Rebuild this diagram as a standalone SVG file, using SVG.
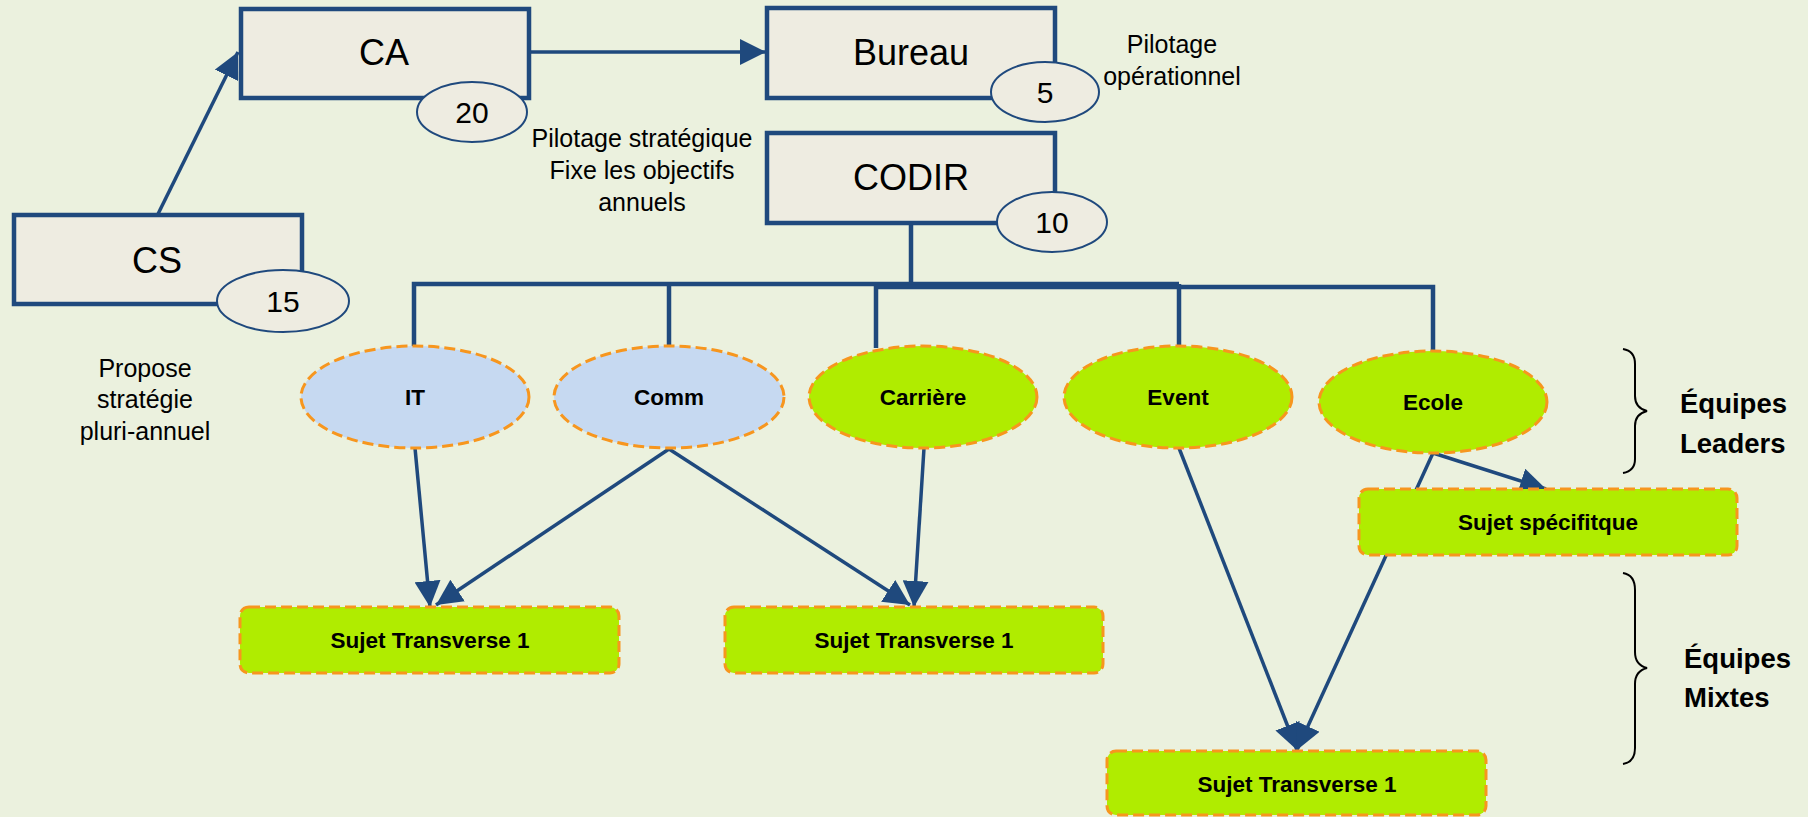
<svg xmlns="http://www.w3.org/2000/svg" width="1808" height="817" viewBox="0 0 1808 817">
<defs>
<marker id="arr" viewBox="0 0 10 10" refX="10" refY="5" markerWidth="26" markerHeight="26" markerUnits="userSpaceOnUse" orient="auto">
<path d="M0,0 L10,5 L0,10 z" fill="#1F497D"/>
</marker>
<style>
.box{fill:#EEECE1;stroke:#1F497D;stroke-width:4.5}
.num{fill:#EEECE1;stroke:#1F497D;stroke-width:2}
.big{font-family:"Liberation Sans",Arial,sans-serif;font-size:36px;fill:#000;text-anchor:middle}
.n{font-family:"Liberation Sans",Arial,sans-serif;font-size:30px;fill:#000;text-anchor:middle}
.note{font-family:"Liberation Sans",Arial,sans-serif;font-size:25px;fill:#000;text-anchor:middle}
.blue{fill:#C6D9F1;stroke:#F7961E;stroke-width:3;stroke-dasharray:11 5}
.green{fill:#B0EC00;stroke:#F7961E;stroke-width:3;stroke-dasharray:11 5}
.lbl{font-family:"Liberation Sans",Arial,sans-serif;font-weight:bold;font-size:22.5px;fill:#000;text-anchor:middle}
.team{font-family:"Liberation Sans",Arial,sans-serif;font-weight:bold;font-size:27.5px;fill:#000}
.con{fill:none;stroke:#1F497D;stroke-width:3.5}
.bus{fill:none;stroke:#1F497D;stroke-width:4.5}
.brace{fill:none;stroke:#000;stroke-width:2}
</style>
</defs>
<rect x="0" y="0" width="1808" height="817" fill="#EBF1DE"/>

<g id="connectors">
<line class="con" x1="158" y1="214" x2="238" y2="52" marker-end="url(#arr)"/>
<line class="con" x1="530" y1="52" x2="766" y2="52" marker-end="url(#arr)"/>
<line class="bus" x1="911" y1="223" x2="911" y2="284"/>
<polyline class="bus" points="414,348 414,284 1179,284"/>
<line class="bus" x1="669" y1="284" x2="669" y2="348"/>
<polyline class="bus" points="876,348 876,287 1433,287 1433,352"/>
<line class="bus" x1="1179" y1="284" x2="1179" y2="348"/>
<line class="con" x1="415" y1="448" x2="430" y2="607" marker-end="url(#arr)"/>
<line class="con" x1="669" y1="449" x2="436" y2="605" marker-end="url(#arr)"/>
<line class="con" x1="669" y1="449" x2="910" y2="605" marker-end="url(#arr)"/>
<line class="con" x1="924" y1="448" x2="914" y2="607" marker-end="url(#arr)"/>
<line class="con" x1="1179" y1="448" x2="1297" y2="750" marker-end="url(#arr)"/>
<line class="con" x1="1433" y1="453" x2="1297" y2="750" marker-end="url(#arr)"/>
<line class="con" x1="1433" y1="453" x2="1546" y2="489" marker-end="url(#arr)"/>
</g>

<g id="node-CA">
<rect class="box" x="241" y="9" width="288" height="89"/>
<text class="big" x="384" y="65">CA</text>
<ellipse class="num" cx="472" cy="112" rx="55" ry="30"/>
<text class="n" x="472" y="123">20</text>
</g>

<g id="node-CS">
<rect class="box" x="14" y="215" width="288" height="89"/>
<text class="big" x="157" y="273">CS</text>
<ellipse class="num" cx="283" cy="301" rx="66" ry="31"/>
<text class="n" x="283" y="312">15</text>
</g>

<g id="node-Bureau">
<rect class="box" x="767" y="8" width="288" height="90"/>
<text class="big" x="911" y="65">Bureau</text>
<ellipse class="num" cx="1045" cy="92" rx="54" ry="30"/>
<text class="n" x="1045" y="103">5</text>
</g>

<g id="node-CODIR">
<rect class="box" x="767" y="133" width="288" height="90"/>
<text class="big" x="911" y="190">CODIR</text>
<ellipse class="num" cx="1052" cy="222" rx="55" ry="30"/>
<text class="n" x="1052" y="233">10</text>
</g>

<g id="notes">
<text class="note" x="145" y="377">Propose</text>
<text class="note" x="145" y="408">stratégie</text>
<text class="note" x="145" y="440">pluri-annuel</text>
<text class="note" x="642" y="147">Pilotage stratégique</text>
<text class="note" x="642" y="179">Fixe les objectifs</text>
<text class="note" x="642" y="211">annuels</text>
<text class="note" x="1172" y="53">Pilotage</text>
<text class="note" x="1172" y="85">opérationnel</text>
</g>

<g id="node-IT">
<ellipse class="blue" cx="415" cy="397" rx="114" ry="51"/>
<text class="lbl" x="415" y="405">IT</text>
</g>
<g id="node-Comm">
<ellipse class="blue" cx="669" cy="397" rx="115" ry="51"/>
<text class="lbl" x="669" y="405">Comm</text>
</g>
<g id="node-Carriere">
<ellipse class="green" cx="923" cy="397" rx="114" ry="51"/>
<text class="lbl" x="923" y="405">Carrière</text>
</g>
<g id="node-Event">
<ellipse class="green" cx="1178" cy="397" rx="114" ry="51"/>
<text class="lbl" x="1178" y="405">Event</text>
</g>
<g id="node-Ecole">
<ellipse class="green" cx="1433" cy="402" rx="114" ry="51"/>
<text class="lbl" x="1433" y="410">Ecole</text>
</g>

<g id="node-Sujet1">
<rect class="green" x="240" y="607" width="379" height="66" rx="9"/>
<text class="lbl" x="430" y="648">Sujet Transverse 1</text>
</g>
<g id="node-Sujet2">
<rect class="green" x="725" y="607" width="378" height="66" rx="9"/>
<text class="lbl" x="914" y="648">Sujet Transverse 1</text>
</g>
<g id="node-Sujet3">
<rect class="green" x="1107" y="751" width="379" height="64" rx="9"/>
<text class="lbl" x="1297" y="792">Sujet Transverse 1</text>
</g>
<g id="node-Specifique">
<rect class="green" x="1359" y="489" width="378" height="66" rx="9"/>
<text class="lbl" x="1548" y="530">Sujet spécifitque</text>
</g>

<g id="legend">
<path class="brace" d="M1623,349 Q1635,351 1635,364 L1635,396 Q1635,408 1647,411 Q1635,414 1635,426 L1635,459 Q1635,471 1623,473"/>
<text class="team" x="1680" y="413">Équipes</text>
<text class="team" x="1680" y="453">Leaders</text>
<path class="brace" d="M1623,573 Q1635,575 1635,590 L1635,652 Q1635,665 1647,668 Q1635,671 1635,684 L1635,748 Q1635,762 1623,764"/>
<text class="team" x="1684" y="668">Équipes</text>
<text class="team" x="1684" y="707">Mixtes</text>
</g>
</svg>
